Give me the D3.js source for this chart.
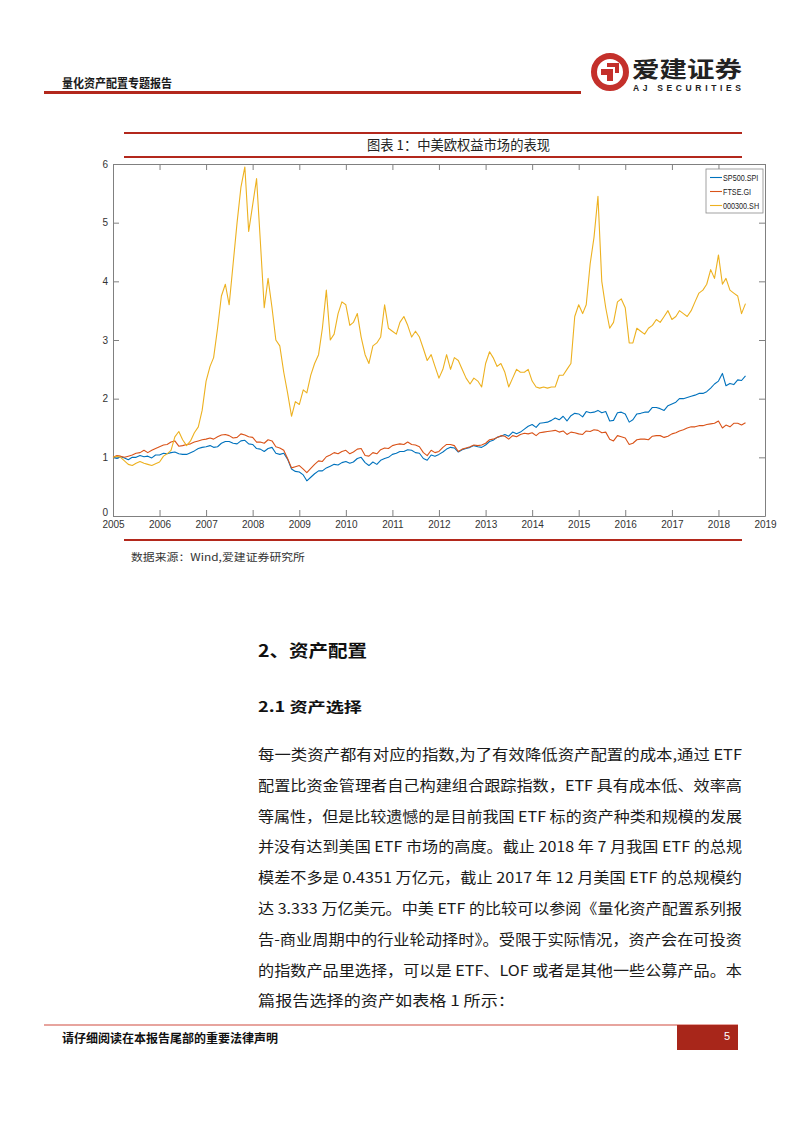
<!DOCTYPE html>
<html><head><meta charset="utf-8">
<script src="https://cdn.jsdelivr.net/npm/d3@7"></script>
<style>body{margin:0;background:#fff}svg{display:block}</style>
</head><body>
<svg id="page" width="802" height="1133"></svg>
<script>
// ---------------- DATA ----------------
const seriesNames = ["SP500.SPI", "FTSE.GI", "000300.SH"];
const xTickLabels = [2005,2006,2007,2008,2009,2010,2011,2012,2013,2014,2015,2016,2017,2018,2019];
const yTickLabels = [0,1,2,3,4,5,6];
// monthly values (start of month), Jan 2005 .. Aug 2018, normalised to 1
const sp500 = [
1.00,0.98,1.01,0.99,0.96,1.00,1.00,1.03,1.01,1.02,0.99,1.04,
1.04,1.07,1.06,1.08,1.09,1.06,1.05,1.05,1.08,1.11,1.15,1.17,
1.18,1.20,1.17,1.18,1.24,1.27,1.27,1.24,1.23,1.28,1.29,1.23,
1.22,1.15,1.14,1.10,1.15,1.17,1.07,1.05,1.07,0.97,0.80,0.76,
0.75,0.70,0.60,0.66,0.72,0.77,0.77,0.82,0.85,0.88,0.87,0.91,
0.93,0.90,0.92,0.98,1.00,0.91,0.86,0.92,0.88,0.95,0.98,1.00,
1.05,1.07,1.10,1.10,1.13,1.12,1.08,1.07,0.98,0.95,1.04,1.02,
1.05,1.09,1.14,1.17,1.16,1.09,1.13,1.15,1.17,1.20,1.18,1.17,
1.21,1.27,1.29,1.34,1.36,1.39,1.36,1.43,1.40,1.43,1.48,1.53,
1.56,1.51,1.58,1.59,1.60,1.63,1.67,1.64,1.70,1.62,1.71,1.75,
1.74,1.69,1.78,1.76,1.77,1.80,1.76,1.78,1.62,1.63,1.76,1.77,
1.74,1.60,1.64,1.74,1.75,1.77,1.77,1.85,1.85,1.83,1.80,1.88,
1.91,1.94,2.00,2.00,2.02,2.04,2.06,2.09,2.09,2.12,2.18,2.25,
2.30,2.43,2.22,2.26,2.24,2.32,2.31,2.39];
const ftse = [
1.00,1.03,1.02,1.00,1.02,1.04,1.07,1.08,1.12,1.08,1.12,1.15,
1.18,1.21,1.22,1.26,1.28,1.19,1.20,1.22,1.23,1.26,1.28,1.30,
1.31,1.33,1.31,1.35,1.38,1.39,1.37,1.33,1.34,1.40,1.38,1.35,
1.34,1.26,1.26,1.24,1.30,1.28,1.18,1.16,1.12,0.98,0.82,0.84,
0.86,0.80,0.74,0.81,0.88,0.94,0.93,1.01,1.04,1.08,1.06,1.10,
1.12,1.06,1.09,1.14,1.15,1.03,1.02,1.08,1.06,1.13,1.16,1.15,
1.20,1.22,1.23,1.22,1.26,1.22,1.21,1.18,1.08,1.03,1.12,1.08,
1.10,1.17,1.22,1.22,1.20,1.10,1.14,1.16,1.18,1.21,1.20,1.21,
1.24,1.30,1.31,1.34,1.37,1.36,1.31,1.37,1.35,1.39,1.41,1.40,
1.42,1.37,1.42,1.43,1.44,1.45,1.46,1.43,1.45,1.39,1.43,1.42,
1.40,1.39,1.45,1.44,1.47,1.46,1.42,1.43,1.31,1.28,1.37,1.35,
1.33,1.22,1.24,1.30,1.31,1.31,1.30,1.36,1.37,1.37,1.34,1.36,
1.40,1.42,1.45,1.47,1.50,1.52,1.52,1.54,1.54,1.56,1.57,1.58,
1.62,1.50,1.55,1.52,1.58,1.58,1.55,1.59];
const csi300 = [
1.00,1.02,1.00,0.94,0.88,0.86,0.90,0.93,0.90,0.88,0.86,0.89,
0.92,1.02,1.06,1.12,1.35,1.44,1.30,1.20,1.28,1.42,1.52,1.80,
2.30,2.55,2.70,3.20,3.75,3.95,3.60,4.30,5.00,5.60,5.95,4.85,
5.30,5.75,4.70,3.55,4.05,3.55,3.00,2.90,2.45,2.10,1.70,1.95,
1.90,2.15,2.10,2.40,2.60,2.75,3.20,3.85,3.00,3.10,3.45,3.65,
3.60,3.25,3.30,3.45,3.05,2.75,2.60,2.90,2.95,3.05,3.60,3.20,
3.15,3.10,3.30,3.40,3.25,3.05,3.15,3.05,2.85,2.65,2.75,2.55,
2.35,2.50,2.75,2.50,2.70,2.65,2.50,2.35,2.25,2.35,2.30,2.20,
2.60,2.80,2.70,2.55,2.60,2.45,2.20,2.35,2.50,2.45,2.45,2.50,
2.30,2.20,2.18,2.20,2.18,2.20,2.20,2.40,2.40,2.50,2.60,3.40,
3.60,3.45,3.60,4.30,4.75,5.45,4.00,3.55,3.20,3.30,3.65,3.70,
3.55,2.95,2.95,3.20,3.15,3.10,3.20,3.25,3.35,3.30,3.40,3.50,
3.35,3.40,3.50,3.45,3.40,3.50,3.65,3.80,3.85,3.95,4.20,4.05,
4.45,3.95,4.05,3.85,3.80,3.75,3.45,3.62];
const paragraph = [
"每一类资产都有对应的指数,为了有效降低资产配置的成本,通过 ETF",
"配置比资金管理者自己构建组合跟踪指数，ETF 具有成本低、效率高",
"等属性，但是比较遗憾的是目前我国 ETF 标的资产种类和规模的发展",
"并没有达到美国 ETF 市场的高度。截止 2018 年 7 月我国 ETF 的总规",
"模差不多是 0.4351 万亿元，截止 2017 年 12 月美国 ETF 的总规模约",
"达 3.333 万亿美元。中美 ETF 的比较可以参阅《量化资产配置系列报",
"告-商业周期中的行业轮动择时》。受限于实际情况，资产会在可投资",
"的指数产品里选择，可以是 ETF、LOF 或者是其他一些公募产品。本",
"篇报告选择的资产如表格 1 所示："];

// ---------------- STYLE ----------------
const colors = ["#0072BD", "#D95319", "#EDB120"];
const red = "#b3281c";
const svg = d3.select("#page");
const cjk = "'Noto Sans CJK SC', sans-serif";
const latin = "'Liberation Sans', Arial, sans-serif";

// ---------------- HEADER ----------------
svg.append("text").attr("x",62).attr("y",88).attr("font-family",cjk).attr("font-weight",700)
  .attr("font-size",12.5).attr("fill","#1a1a1a").attr("textLength",110).attr("lengthAdjust","spacingAndGlyphs")
  .text("量化资产配置专题报告");
svg.append("line").attr("x1",44).attr("x2",581).attr("y1",92.5).attr("y2",92.5).attr("stroke",red).attr("stroke-width",3);
// logo
const logo = svg.append("g").attr("transform","translate(610,72)");
logo.append("circle").attr("r",16).attr("fill","none").attr("stroke","#c4302b").attr("stroke-width",6);
logo.append("path").attr("d","M-9,-3 L3,-3 L3,9 L-3,9 L-3,3 L-9,3 Z").attr("fill","#c4302b");
logo.append("path").attr("d","M-3,-9 L9,-9 L9,1 L5,1 L5,-5 L-3,-5 Z").attr("fill","#c4302b");
svg.append("text").attr("x",632).attr("y",77).attr("font-family",cjk).attr("font-weight",700)
  .attr("font-size",22).attr("fill","#222").attr("textLength",110).attr("lengthAdjust","spacingAndGlyphs")
  .text("爱建证券");
svg.append("text").attr("x",633).attr("y",91).attr("font-family",latin).attr("font-weight",700)
  .attr("font-size",8.5).attr("fill","#222").attr("textLength",108).attr("lengthAdjust","spacing")
  .text("AJ SECURITIES");

// ---------------- CHART TITLE ----------------
svg.append("line").attr("x1",124).attr("x2",742).attr("y1",133).attr("y2",133).attr("stroke",red).attr("stroke-width",2);
svg.append("line").attr("x1",124).attr("x2",742).attr("y1",157).attr("y2",157).attr("stroke",red).attr("stroke-width",2);
svg.append("text").attr("x",367).attr("y",150).attr("font-family",cjk).attr("font-size",13.5)
  .attr("fill","#222").attr("textLength",183).attr("lengthAdjust","spacingAndGlyphs")
  .text("图表 1：中美欧权益市场的表现");

// ---------------- CHART ----------------
const dates = sp500.map((_, i) => new Date(2005, i, 1));
const x = d3.scaleTime().domain([new Date(2005,0,1), new Date(2019,0,1)]).range([113, 765]);
const y = d3.scaleLinear().domain([0, 6]).range([516, 164]);
const xt = xTickLabels.map(yr => new Date(yr,0,1));
const axisColor = "#808080";

function styleAxis(g){
  g.selectAll("path,line").attr("stroke",axisColor);
  g.selectAll("text").attr("font-family",latin).attr("font-size",10).attr("fill","#333");
}
svg.append("g").attr("transform","translate(0,516)")
  .call(d3.axisBottom(x).tickValues(xt).tickFormat(d3.timeFormat("%Y")).tickSizeInner(-6).tickSizeOuter(0).tickPadding(5))
  .call(styleAxis);
svg.append("g").attr("transform","translate(0,164)")
  .call(d3.axisTop(x).tickValues(xt).tickFormat("").tickSizeInner(-6).tickSizeOuter(0))
  .call(styleAxis);
const yAxisG = svg.append("g").attr("transform","translate(113,0)")
  .call(d3.axisLeft(y).tickValues(yTickLabels).tickFormat(d3.format("d")).tickSizeInner(-6).tickSizeOuter(0).tickPadding(5))
  .call(styleAxis);
yAxisG.selectAll(".tick text").filter(d => d === 0).attr("dy","-0.05em");
svg.append("g").attr("transform","translate(765,0)")
  .call(d3.axisRight(y).tickValues(yTickLabels).tickFormat("").tickSizeInner(-6).tickSizeOuter(0))
  .call(styleAxis);

const line = d3.line().x((d,i)=>x(dates[i])).y(d=>y(d));
const allSeries = [sp500, ftse, csi300];
allSeries.forEach((s, k) => {
  svg.append("path").datum(s).attr("d", line).attr("fill","none")
    .attr("stroke", colors[k]).attr("stroke-width", 1.1).attr("stroke-linejoin","round");
});

// legend
const lg = svg.append("g").attr("transform","translate(706,169)");
lg.append("rect").attr("width",57).attr("height",44).attr("fill","#fff").attr("stroke","#8a8a8a").attr("stroke-width",0.8);
seriesNames.forEach((n,k)=>{
  const yy = 8.5 + k*14;
  lg.append("line").attr("x1",4).attr("x2",16).attr("y1",yy).attr("y2",yy).attr("stroke",colors[k]).attr("stroke-width",1.1);
  lg.append("g").attr("transform",`translate(17,${yy+3.2}) scale(0.84,1)`)
    .append("text").attr("x",0).attr("y",0).attr("font-family",latin).attr("font-size",8.6)
    .attr("fill","#222").text(n);
});

// under chart
svg.append("line").attr("x1",124).attr("x2",742).attr("y1",540).attr("y2",540).attr("stroke",red).attr("stroke-width",2);
svg.append("text").attr("x",131).attr("y",561).attr("font-family",cjk).attr("font-size",10)
  .attr("fill","#333").attr("textLength",174).attr("lengthAdjust","spacingAndGlyphs")
  .text("数据来源：Wind,爱建证券研究所");

// ---------------- BODY TEXT ----------------
svg.append("text").attr("x",258).attr("y",657).attr("font-family",cjk).attr("font-weight",700)
  .attr("font-size",17).attr("fill","#111").attr("textLength",109).attr("lengthAdjust","spacingAndGlyphs")
  .text("2、资产配置");
svg.append("text").attr("x",258).attr("y",712).attr("font-family",cjk).attr("font-weight",700)
  .attr("font-size",14).attr("fill","#111").attr("textLength",104).attr("lengthAdjust","spacingAndGlyphs")
  .text("2.1 资产选择");
paragraph.forEach((t,i)=>{
  const el = svg.append("text").attr("x",258).attr("y",760 + i*30.8).attr("font-family",cjk)
    .attr("font-size",14.5).attr("fill","#1a1a1a").text(t);
  if (i < paragraph.length-1) el.attr("textLength",484).attr("lengthAdjust","spacingAndGlyphs");
  else el.attr("textLength",257).attr("lengthAdjust","spacingAndGlyphs");
});

// ---------------- FOOTER ----------------
svg.append("line").attr("x1",44).attr("x2",738).attr("y1",1025).attr("y2",1025).attr("stroke","#d04a3e").attr("stroke-width",1.2);
svg.append("rect").attr("x",677).attr("y",1025).attr("width",61).attr("height",25).attr("fill","#a8261a");
svg.append("text").attr("x",730).attr("y",1040).attr("text-anchor","end").attr("font-family",latin)
  .attr("font-size",11).attr("fill","#fff").text("5");
svg.append("text").attr("x",62).attr("y",1043).attr("font-family",cjk).attr("font-weight",700)
  .attr("font-size",12).attr("fill","#111").attr("textLength",216).attr("lengthAdjust","spacingAndGlyphs")
  .text("请仔细阅读在本报告尾部的重要法律声明");
</script>
</body></html>
